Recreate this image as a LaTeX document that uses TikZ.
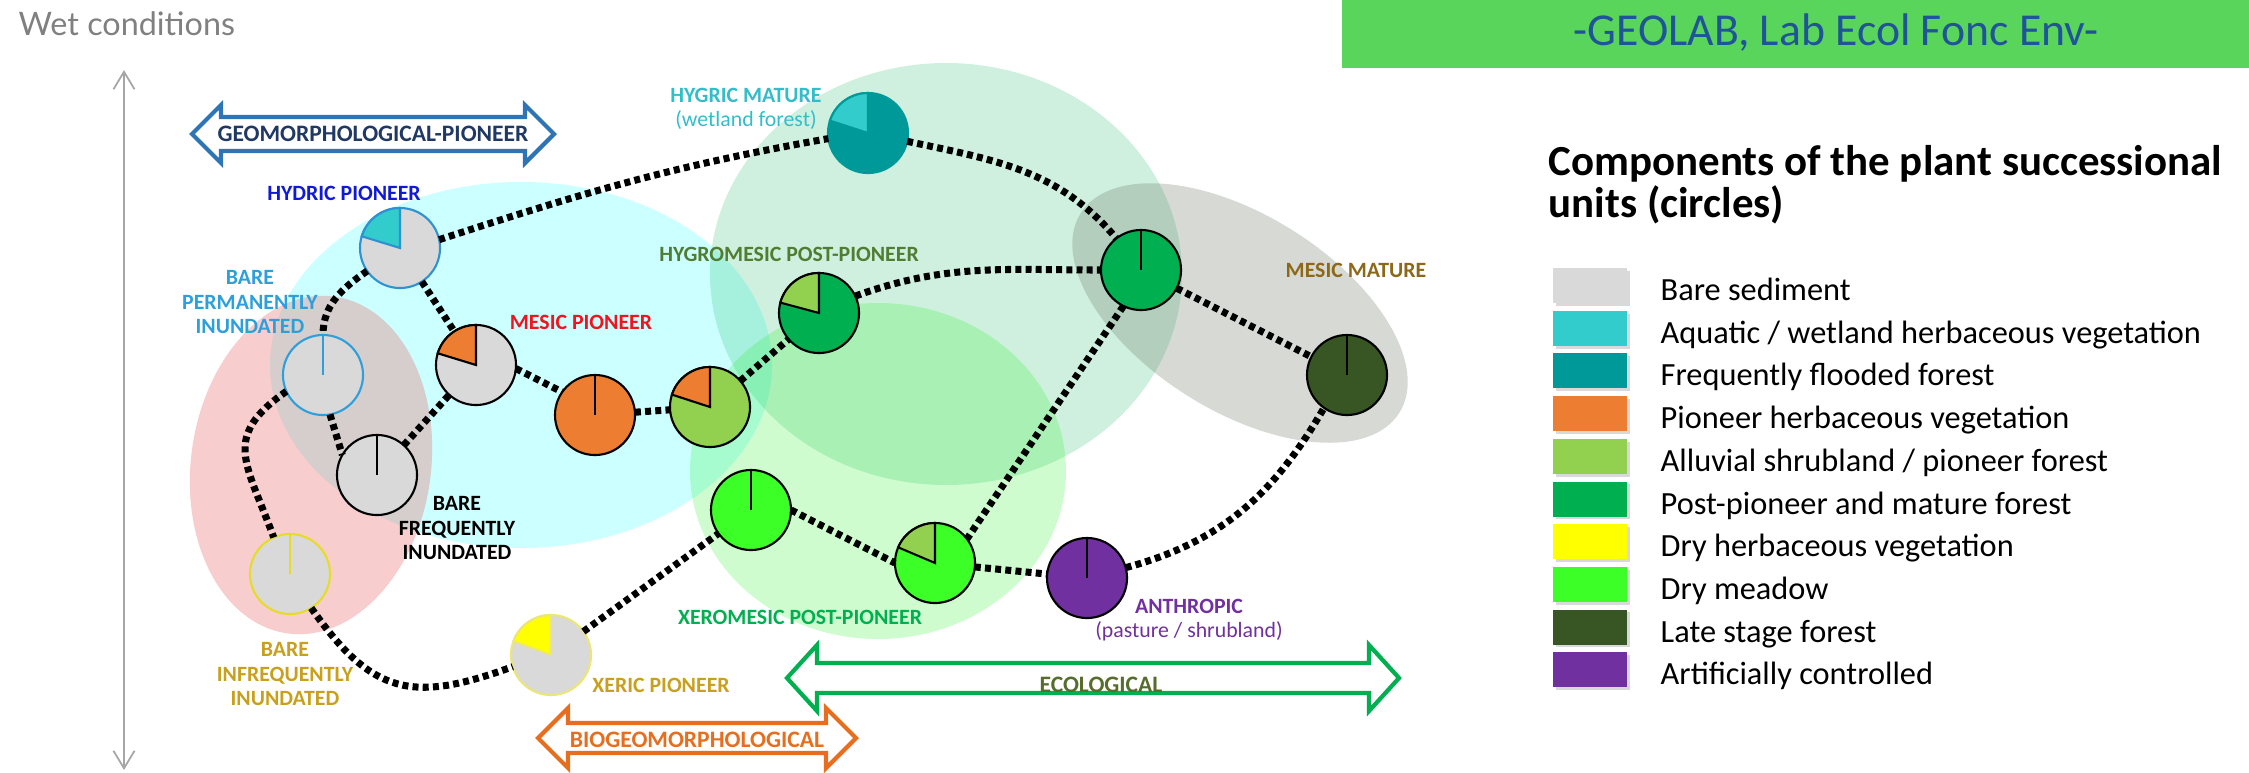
\documentclass[tikz,border=0pt]{standalone}
\usepackage{fontspec}
\setmainfont{Carlito}
\newfontfamily\thinsans{Lato}
\usetikzlibrary{arrows.meta,shadows}

\definecolor{bare}{RGB}{217,217,217}
\definecolor{aquatic}{RGB}{51,204,204}
\definecolor{flooded}{RGB}{0,153,153}
\definecolor{pioneer}{RGB}{237,125,49}
\definecolor{alluvial}{RGB}{146,208,80}
\definecolor{postpioneer}{RGB}{0,176,80}
\definecolor{dryherb}{RGB}{255,255,0}
\definecolor{drymeadow}{RGB}{60,255,40}
\definecolor{late}{RGB}{55,86,35}
\definecolor{artificial}{RGB}{112,48,160}
\definecolor{cyanblob}{RGB}{0,255,255}
\definecolor{pinkblob}{RGB}{234,102,102}
\definecolor{grayblob}{RGB}{95,105,85}
\definecolor{lowgreen}{RGB}{15,240,15}
\definecolor{hydricblue}{RGB}{45,145,210}
\definecolor{permblue}{RGB}{45,160,220}
\definecolor{yellowline}{RGB}{230,220,40}
\definecolor{paleyellow}{RGB}{235,230,120}
\definecolor{hydricword}{RGB}{15,25,215}
\definecolor{mesicred}{RGB}{240,20,30}
\definecolor{hygricword}{RGB}{50,190,200}
\definecolor{hygroword}{RGB}{80,125,50}
\definecolor{maturebrown}{RGB}{140,105,25}
\definecolor{ochre}{RGB}{200,160,30}
\definecolor{xerogreen}{RGB}{0,176,80}
\definecolor{navy}{RGB}{31,56,100}
\definecolor{geoblue}{RGB}{46,117,182}
\definecolor{biorange}{RGB}{230,110,30}
\definecolor{olive}{RGB}{85,110,45}
\definecolor{banner}{RGB}{90,213,92}
\definecolor{bannerblue}{RGB}{31,84,153}

% slice of a unit: node, colour, end angle, line colour
\newcommand{\slice}[4]{\draw[#4, line width=0.6pt, fill=#2] (#1.center) -- (#1.north) arc[start angle=90, end angle=#3, radius=40] -- cycle;}
% double arrow: colour, left tip, right tip, y, head length, head half, shaft half
\newcommand{\twoway}[7]{\draw[#1, line width=1.2pt, fill=white, line join=miter] (#2,#4) -- (#2+#5,#4+#6) -- (#2+#5,#4+#7) -- (#3-#5,#4+#7) -- (#3-#5,#4+#6) -- (#3,#4) -- (#3-#5,#4-#6) -- (#3-#5,#4-#7) -- (#2+#5,#4-#7) -- (#2+#5,#4-#6) -- cycle;}

\begin{document}
\begin{tikzpicture}[x=0.01cm, y=0.01cm,
  pie/.style={circle, minimum size=0.8cm, inner sep=0pt, outer sep=0pt, draw=black, line width=0.6pt},
  dotline/.style={black, line width=2pt, dash pattern=on 1.7pt off 1.2pt},
  unit/.style={font=\fontsize{6.2}{7.1}\selectfont\bfseries, align=center, inner sep=0pt},
  arrowword/.style={font=\fontsize{6.7}{8}\selectfont\bfseries, inner sep=0pt},
  keybox/.style={minimum width=0.74cm, minimum height=0.35cm, inner sep=0pt, drop shadow={shadow xshift=0.8pt, shadow yshift=-0.8pt, opacity=0.3}},
  keytext/.style={anchor=base west, inner sep=0pt, font=\fontsize{9.2}{11}\selectfont}]
\useasboundingbox (0,0) rectangle (2249,-772);

% header
\fill[banner] (1342,0) rectangle (2249,-68);
\node[anchor=base, inner sep=0pt, font=\fontsize{13}{15}\selectfont, text=bannerblue] (bannertext) at (1836,-45) {-GEOLAB, Lab Ecol Fonc Env-};
\node[anchor=base west, inner sep=0pt, font=\thinsans\fontsize{9.2}{11}\selectfont, text=black!50] (wet) at (18,-35) {Wet conditions};
\coordinate (axistop) at (124,-70);
\coordinate (axisbottom) at (124,-770);
\draw[black!35, line width=0.5pt, {Straight Barb[length=5pt,width=6pt]}-{Straight Barb[length=5pt,width=6pt]}] (axistop) -- (axisbottom);

% groups
\fill[cyanblob, opacity=0.2] (521,-365) ellipse [x radius=251, y radius=183];
\fill[pinkblob, opacity=0.33, rotate around={-8:(311,-465)}] (311,-465) ellipse [x radius=120, y radius=170];
\fill[postpioneer, opacity=0.19] (946,-274) ellipse [x radius=236, y radius=211];
\fill[lowgreen, opacity=0.2] (878,-471) ellipse [x radius=188, y radius=168];
\fill[grayblob, opacity=0.25, rotate around={-32:(1240,-313)}] (1240,-313) ellipse [x radius=188, y radius=98];

% dynamics
\twoway{geoblue}{192}{554}{-134}{29}{29}{17}
\twoway{biorange}{538}{856}{-738}{30}{30}{15}
\twoway{postpioneer}{787}{1399}{-678}{30}{33}{15}
\node[arrowword, text=navy] (lgeo) at (373,-134) {GEOMORPHOLOGICAL-PIONEER};
\node[arrowword, text=biorange] (lbio) at (697,-740) {BIOGEOMORPHOLOGICAL};
\node[arrowword, text=olive] (leco) at (1101,-685) {ECOLOGICAL};

% units
\node[pie, fill=bare, draw=hydricblue] (hydric) at (400,-248) {};
\node[pie, fill=bare, draw=permblue] (perm) at (323,-375) {};
\node[pie, fill=bare] (mesicp) at (476,-365) {};
\node[pie, fill=pioneer] (orange) at (595,-415) {};
\node[pie, fill=alluvial] (orgreen) at (710,-407) {};
\node[pie, fill=postpioneer] (hygromesic) at (819,-313) {};
\node[pie, fill=flooded, draw=flooded] (hygric) at (868,-133) {};
\node[pie, fill=postpioneer] (postp) at (1141,-270) {};
\node[pie, fill=late] (mesicm) at (1347,-375) {};
\node[pie, fill=bare] (freq) at (377,-475) {};
\node[pie, fill=bare, draw=yellowline] (infreq) at (290,-574) {};
\node[pie, fill=bare, draw=paleyellow] (xeric) at (551,-655) {};
\node[pie, fill=drymeadow] (xeromesic) at (751,-510) {};
\node[pie, fill=drymeadow] (drygreen) at (935,-563) {};
\node[pie, fill=artificial] (anthropic) at (1087,-578) {};

\slice{hydric}{aquatic}{163}{hydricblue}
\slice{mesicp}{pioneer}{163}{black}
\slice{orgreen}{pioneer}{162}{black}
\slice{hygromesic}{alluvial}{165}{black}
\slice{hygric}{aquatic}{162}{flooded}
\slice{xeric}{dryherb}{160}{paleyellow}
\slice{drygreen}{alluvial}{157}{black}
\draw[permblue, line width=0.6pt] (perm.center) -- (perm.north);
\draw[line width=0.6pt] (orange.center) -- (orange.north);
\draw[line width=0.6pt] (postp.center) -- (postp.north);
\draw[line width=0.6pt] (mesicm.center) -- (mesicm.north);
\draw[line width=0.6pt] (freq.center) -- (freq.north);
\draw[yellowline, line width=0.6pt] (infreq.center) -- (infreq.north);
\draw[line width=0.6pt] (xeromesic.center) -- (xeromesic.north);
\draw[line width=0.6pt] (anthropic.center) -- (anthropic.north);

% trajectories
\draw[dotline] (hydric.12) to[out=18,in=190] (hygric.188);
\draw[dotline] (hygric.-12) to[out=-12,in=130] (postp.128);
\draw[dotline] (postp) -- (mesicm);
\draw[dotline] (hydric.215) to[out=215,in=90] (perm.north);
\draw[dotline] (hydric) -- (mesicp);
\draw[dotline] (perm.-80) -- (freq.150);
\draw[dotline] (perm.204) to[out=215,in=110,looseness=1.4] (infreq.114);
\draw[dotline] (freq) -- (mesicp);
\draw[dotline] (mesicp.-5) -- (orange.145);
\draw[dotline] (orange) -- (orgreen);
\draw[dotline] (orgreen) -- (hygromesic);
\draw[dotline] (hygromesic.25) to[out=20,in=180] (postp.west);
\draw[dotline] (postp.244) -- (drygreen.37);
\draw[dotline] (infreq.-58) to[out=-55,in=200,looseness=1.3] (xeric.197);
\draw[dotline] (xeric) -- (xeromesic);
\draw[dotline] (xeromesic.east) -- (drygreen.west);
\draw[dotline] (drygreen) -- (anthropic);
\draw[dotline] (anthropic.15) to[out=15,in=240] (mesicm.235);

% unit names
\node[unit, text=hydricword] (lhydric) at (344,-193) {HYDRIC PIONEER};
\node[unit, text=permblue] (lperm) at (250,-302) {BARE\\PERMANENTLY\\INUNDATED};
\node[unit, text=mesicred] (lmesicp) at (581,-322) {MESIC PIONEER};
\node[unit, text=hygricword, anchor=north] (lhygric) at (746,-87) {HYGRIC MATURE\\{\mdseries(wetland forest)}};
\node[unit, text=hygroword] (lhygromesic) at (789,-254) {HYGROMESIC POST-PIONEER};
\node[unit, text=maturebrown] (lmesicm) at (1356,-270) {MESIC MATURE};
\node[unit] (lfreq) at (457,-528) {BARE\\FREQUENTLY\\INUNDATED};
\node[unit, text=ochre] (linfreq) at (285,-674) {BARE\\INFREQUENTLY\\INUNDATED};
\node[unit, text=ochre] (lxeric) at (661,-685) {XERIC PIONEER};
\node[unit, text=xerogreen] (lxeromesic) at (800,-617) {XEROMESIC POST-PIONEER};
\node[unit, text=artificial, anchor=north] (lanthropic) at (1189,-598) {ANTHROPIC\\{\mdseries(pasture / shrubland)}};

% legend
\node[anchor=base west, inner sep=0pt, font=\fontsize{12.2}{14}\selectfont\bfseries] (keytitle) at (1548,-175) {Components of the plant successional};
\node[anchor=base west, inner sep=0pt, font=\fontsize{12.2}{14}\selectfont\bfseries] (keytitleb) at (1548,-217) {units (circles)};
\node[keybox, fill=bare] (kbare) at (1590,-285.5) {};
\node[keytext] (tbare) at (1660,-300.5) {Bare sediment};
\node[keybox, fill=aquatic] (kaquatic) at (1590,-328.2) {};
\node[keytext] (taquatic) at (1660,-343.2) {Aquatic / wetland herbaceous vegetation};
\node[keybox, fill=flooded] (kflooded) at (1590,-370.9) {};
\node[keytext] (tflooded) at (1660,-385.9) {Frequently flooded forest};
\node[keybox, fill=pioneer] (kpioneer) at (1590,-413.6) {};
\node[keytext] (tpioneer) at (1660,-428.6) {Pioneer herbaceous vegetation};
\node[keybox, fill=alluvial] (kalluvial) at (1590,-456.3) {};
\node[keytext] (talluvial) at (1660,-471.3) {Alluvial shrubland / pioneer forest};
\node[keybox, fill=postpioneer] (kpost) at (1590,-499) {};
\node[keytext] (tpost) at (1660,-514) {Post-pioneer and mature forest};
\node[keybox, fill=dryherb] (kdryherb) at (1590,-541.7) {};
\node[keytext] (tdryherb) at (1660,-556.7) {Dry herbaceous vegetation};
\node[keybox, fill=drymeadow] (kmeadow) at (1590,-584.4) {};
\node[keytext] (tmeadow) at (1660,-599.4) {Dry meadow};
\node[keybox, fill=late] (klate) at (1590,-627.1) {};
\node[keytext] (tlate) at (1660,-642.1) {Late stage forest};
\node[keybox, fill=artificial] (kartificial) at (1590,-669.8) {};
\node[keytext] (tartificial) at (1660,-684.8) {Artificially controlled};
\end{tikzpicture}
\end{document}
